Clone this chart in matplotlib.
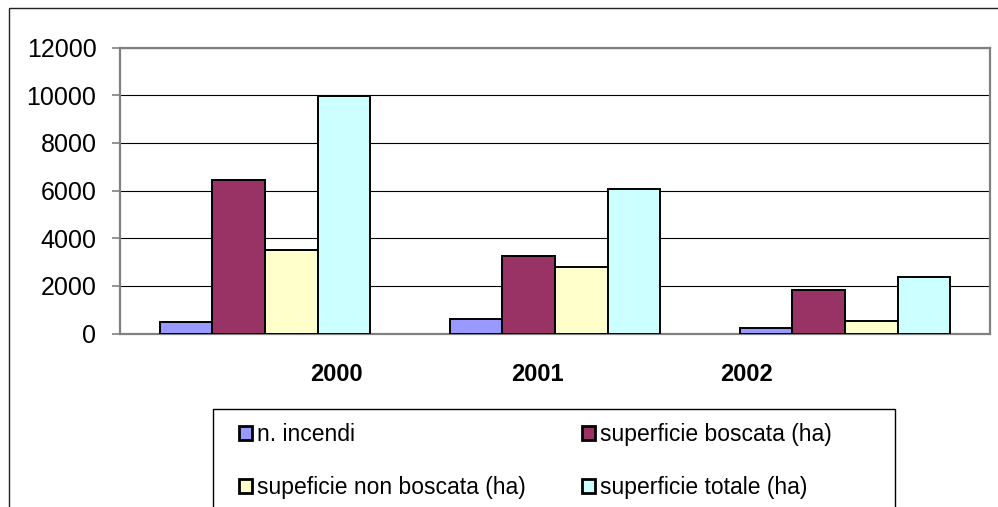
import matplotlib
matplotlib.use("Agg")
import matplotlib.pyplot as plt
from matplotlib.patches import Rectangle
import numpy as np

plt.rcParams['font.family'] = ['Liberation Sans', 'DejaVu Sans']

years = ["2000", "2001", "2002"]
series_names = ["n. incendi", "superficie boscata (ha)",
                "supeficie non boscata (ha)", "superficie totale (ha)"]
n_incendi = [490, 590, 210]
sup_boscata = [6450, 3250, 1820]
sup_non_boscata = [3500, 2800, 520]
sup_totale = [9970, 6060, 2370]
yticks = [0, 2000, 4000, 6000, 8000, 10000, 12000]

colors = ["#9999FF", "#993366", "#FFFFCC", "#CCFFFF"]
series = [n_incendi, sup_boscata, sup_non_boscata, sup_totale]

W, H = 998, 507
fig = plt.figure(figsize=(W / 100, H / 100), dpi=100)
fig.patch.set_facecolor("white")

# outer chart frame
fig.add_artist(Rectangle((9 / W, -0.1), 1.2, (H - 8) / H + 0.1, transform=fig.transFigure,
                         fill=False, edgecolor="#222222", linewidth=1.0))

ax = fig.add_axes([120 / W, 1 - 333.5 / H, 870 / W, (333.5 - 47.5) / H])
x = np.arange(len(years))
bw = 1 / 5.5
for i, (vals, c, name) in enumerate(zip(series, colors, series_names)):
    ax.bar(x + (i - 1.5) * bw, vals, width=bw, color=c, edgecolor="black",
           linewidth=1.4, label=name, zorder=3)

ax.set_xlim(-0.5, 2.5)
ax.set_ylim(0, 12000)
ax.set_yticks(yticks)
ax.set_yticklabels([str(v) for v in yticks], fontsize=18)
ax.yaxis.grid(True, color="black", linewidth=0.8, zorder=0)
ax.set_axisbelow(True)
for s in ax.spines.values():
    s.set_color("#808080")
    s.set_linewidth(1.6)
ax.tick_params(axis="y", direction="out", length=6, width=1.2, color="#808080", pad=11)

# category labels (offset as in the original)
label_offsets = [0.248, -0.062, -0.338]
ax.set_xticks(x + np.array(label_offsets))
ax.set_xticklabels(years, fontsize=17, fontweight="bold")
ax.tick_params(axis="x", length=0, pad=21)

# legend frame
fig.add_artist(Rectangle((213 / W, -0.1), (895 - 213) / W, (H - 409) / H + 0.1,
                         transform=fig.transFigure, fill=False,
                         edgecolor="black", linewidth=1.0))
handles, labels = ax.get_legend_handles_labels()
order = [0, 2, 1, 3]
leg = fig.legend([handles[k] for k in order], [labels[k] for k in order],
                 loc="upper left", bbox_to_anchor=(239 / W, 1 - 423 / H),
                 ncol=2, frameon=False, fontsize=16.5, borderpad=0, borderaxespad=0,
                 handlelength=0.58, handleheight=0.58, handletextpad=0.2,
                 columnspacing=2.45, labelspacing=1.3)
for h in leg.legend_handles:
    h.set_linewidth(2.0)

fig.savefig("out.png", dpi=100)
